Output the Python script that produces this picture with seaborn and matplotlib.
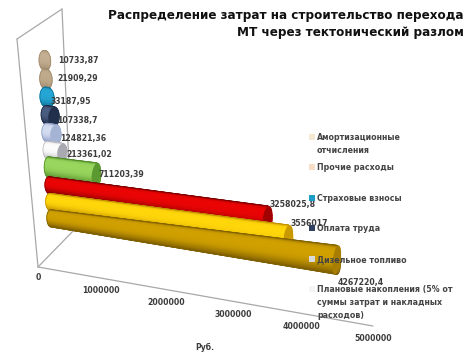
import numpy as np
import pandas as pd
import matplotlib
matplotlib.use("Agg")
import matplotlib.pyplot as plt
from matplotlib.colors import LinearSegmentedColormap
from matplotlib.patches import Polygon, Ellipse, Rectangle
from matplotlib.transforms import Affine2D
import seaborn as sns

# ---- data (top bar to bottom bar) ----
categories = ["Амортизационные отчисления", "Прочие расходы", "Страховые взносы", "Оплата труда",
              "Дизельное топливо", "Плановые накопления", "Статья 7", "Статья 8", "Статья 9", "Статья 10"]
costs = [10733.87, 21909.29, 33187.95, 107338.7, 124821.36, 213361.02, 711203.39,
         3258025.8, 3556017.0, 4267220.4]
value_ticks = [0, 1000000, 2000000, 3000000, 4000000, 5000000]
legend_labels = ["Амортизационные\nотчисления", "Прочие расходы", "Страховые взносы", "Оплата труда",
                 "Дизельное топливо", "Плановые накопления (5% от\nсуммы затрат и накладных\nрасходов)"]
title_text = "Распределение затрат на строительство перехода\nМТ через тектонический разлом"
axis_label = "Руб."

# ---- styles ----
light = ["#c4ae92", "#c0aa8c", "#25a6d4", "#4a5c80", "#d3dcf0", "#fcfcfc", "#98d65e", "#ea0404", "#ffd60a", "#d0a000"]
dark = ["#a08a6c", "#9c876c", "#0f7096", "#1c2a44", "#8c9cc4", "#b4b4bc", "#4f8a28", "#7c0000", "#c08e00", "#806000"]
end_face = ["#b8a284", "#b39c7e", "#1592c0", "#222f4a", "#a5b3d4", "#a9a9b2", "#5b9a30", "#a00000", "#c89a00", "#a87e00"]
h_start = [10, 10, 10, 9.5, 9.5, 9, 10.5, 8.5, 8.5, 8.5]
h_end = [10, 10, 10, 9.5, 9.5, 9, 11.5, 11, 11.5, 14.5]
cap_w = [11, 11, 12, 11, 11, 10, 9, 9, 9, 8]
label_x = [58, 57, 51, 57, 60, 66, 99, 270, 291, 338]
label_y = [61, 78, 101.5, 120, 138, 155, 175, 205, 223, 282]
legend_y = [137, 167, 198, 228, 259, 289]
legend_colors = ["#f4ead4", "#f6dfc4", "#1e9cc8", "#2f4060", "#d8dadc", "#f4f4f4"]
GREY = "#a8a8a8"
FONT = "DejaVu Sans"

sns.set_theme(style="white")
plt.rcParams["font.family"] = [FONT]

PX_PER_UNIT = 67.0 / 1e6
SLOPE = 0.145


def bar_x(v, i):
    return 44.5 + 0.7 * i + PX_PER_UNIT * v


def bar_y(v, i):
    return 60.5 + 18.6 * i - 0.13 * i ** 2 + (1 if i > 6 else 0) + SLOPE * PX_PER_UNIT * v


fig = plt.figure(figsize=(4.74, 3.55), dpi=100, facecolor="white")
ax_bar = fig.add_axes([0, 0, 1, 1])
ax = fig.add_axes([0, 0, 1, 1], facecolor="none")
ax.set_xlim(0, 474)
ax.set_ylim(355, 0)
ax.axis("off")

df = pd.DataFrame({"cat": categories, "cost": costs})
sns.barplot(data=df, x="cost", y="cat", hue="cat", palette=light, dodge=False, orient="h",
            width=0.3, legend=False, ax=ax_bar)
ax_bar.axis("off")

# core of each bar: the seaborn rectangle, sheared into the chart's oblique plane
for cont in ax_bar.containers:
    for p in cont:
        if not np.isfinite(p.get_width()) or p.get_width() == 0:
            p.set_visible(False)
            continue
        row = int(round(p.get_y() + p.get_height() / 2))
        tf = Affine2D(np.array([[PX_PER_UNIT, 0, bar_x(0, row)],
                                [SLOPE * PX_PER_UNIT, 18, bar_y(0, row) - 18 * row],
                                [0, 0, 1]], dtype=float))
        p.set_transform(tf + ax.transData)
        p.set_clip_on(False)

# wall and floor of the 3D frame
corner = (38, 267)
for seg in [((17, 39), corner), ((17, 39), (62, 9)), ((62, 9), (69, 165)),
            (corner, (76, 228)), (corner, (373, 326))]:
    ax.plot(*zip(*seg), color=GREY, lw=0.9, zorder=1)

# cylinder shading: smooth mesh across each bar's thickness
t_grid = np.array([-1, -0.97, -0.9, -0.8, -0.65, -0.45, -0.2, 0.1, 0.3, 0.45, 0.6, 0.72, 0.84, 0.92, 0.97, 1.0])
shade = np.array([0.95, 0.8, 0.45, 0.1, 0.0, 0.0, 0.0, 0.05, 0.15, 0.3, 0.45, 0.6, 0.75, 0.88, 0.95, 1.0])
for i, v in enumerate(costs):
    x0, y0 = bar_x(0, i), bar_y(0, i)
    x1, y1 = bar_x(v, i), bar_y(v, i)
    w = cap_w[i] / 2
    z = 4 + i
    r = np.sqrt(np.clip(1 - t_grid ** 2, 0, 1))
    X = np.column_stack([x0 - w * r, x1 + w * r])
    Y = np.column_stack([y0 - SLOPE * w * r + t_grid * h_start[i], y1 + SLOPE * w * r + t_grid * h_end[i]])
    C = np.column_stack([shade, shade])
    cmap = LinearSegmentedColormap.from_list(f"c{i}", [light[i], dark[i]])
    ax.pcolormesh(X, Y, C, shading="gouraud", cmap=cmap, vmin=0, vmax=1, zorder=z)
    outline = np.vstack([np.column_stack([X[:, 1], Y[:, 1]]), np.column_stack([X[::-1, 0], Y[::-1, 0]])])
    ax.add_patch(Polygon(outline, closed=True, facecolor="none", edgecolor=dark[i], lw=0.5, zorder=z))
    if v > 1e5:
        ax.add_patch(Ellipse((x1, y1), cap_w[i], 2 * h_end[i], angle=8, facecolor=end_face[i],
                             edgecolor="none", zorder=z))

# value labels
for i, v in enumerate(costs):
    ax.text(label_x[i], label_y[i], f"{v:.10g}".replace(".", ","), fontsize=5.6, fontweight="bold",
            color="#3c3c3c", ha="left", va="center", zorder=30)

# value axis tick labels
for t in value_ticks:
    u = t / 1e6
    ax.text(38 + 62 * u + u ** 2, 278 + 12.1 * u, f"{t}", fontsize=5.6, fontweight="bold", color="#3c3c3c",
            ha="center", va="center", zorder=30)
ax.text(205, 347, axis_label, fontsize=5.6, fontweight="bold", color="#3c3c3c", ha="center", va="center")

# legend
for y, lab, c in zip(legend_y, legend_labels, legend_colors):
    ax.add_patch(Rectangle((309, y - 3), 6, 6, facecolor=c, edgecolor="none", zorder=31))
    ax.text(317, y - 4, lab, fontsize=5.7, fontweight="bold", color="#444444", ha="left", va="top",
            linespacing=1.55, zorder=32)

# title
ax.text(464, 24, title_text, fontsize=8.65, fontweight="bold", color="#111111", ha="right", va="center",
        multialignment="right", linespacing=1.35)

fig.savefig("out.png", dpi=100, facecolor="white")
